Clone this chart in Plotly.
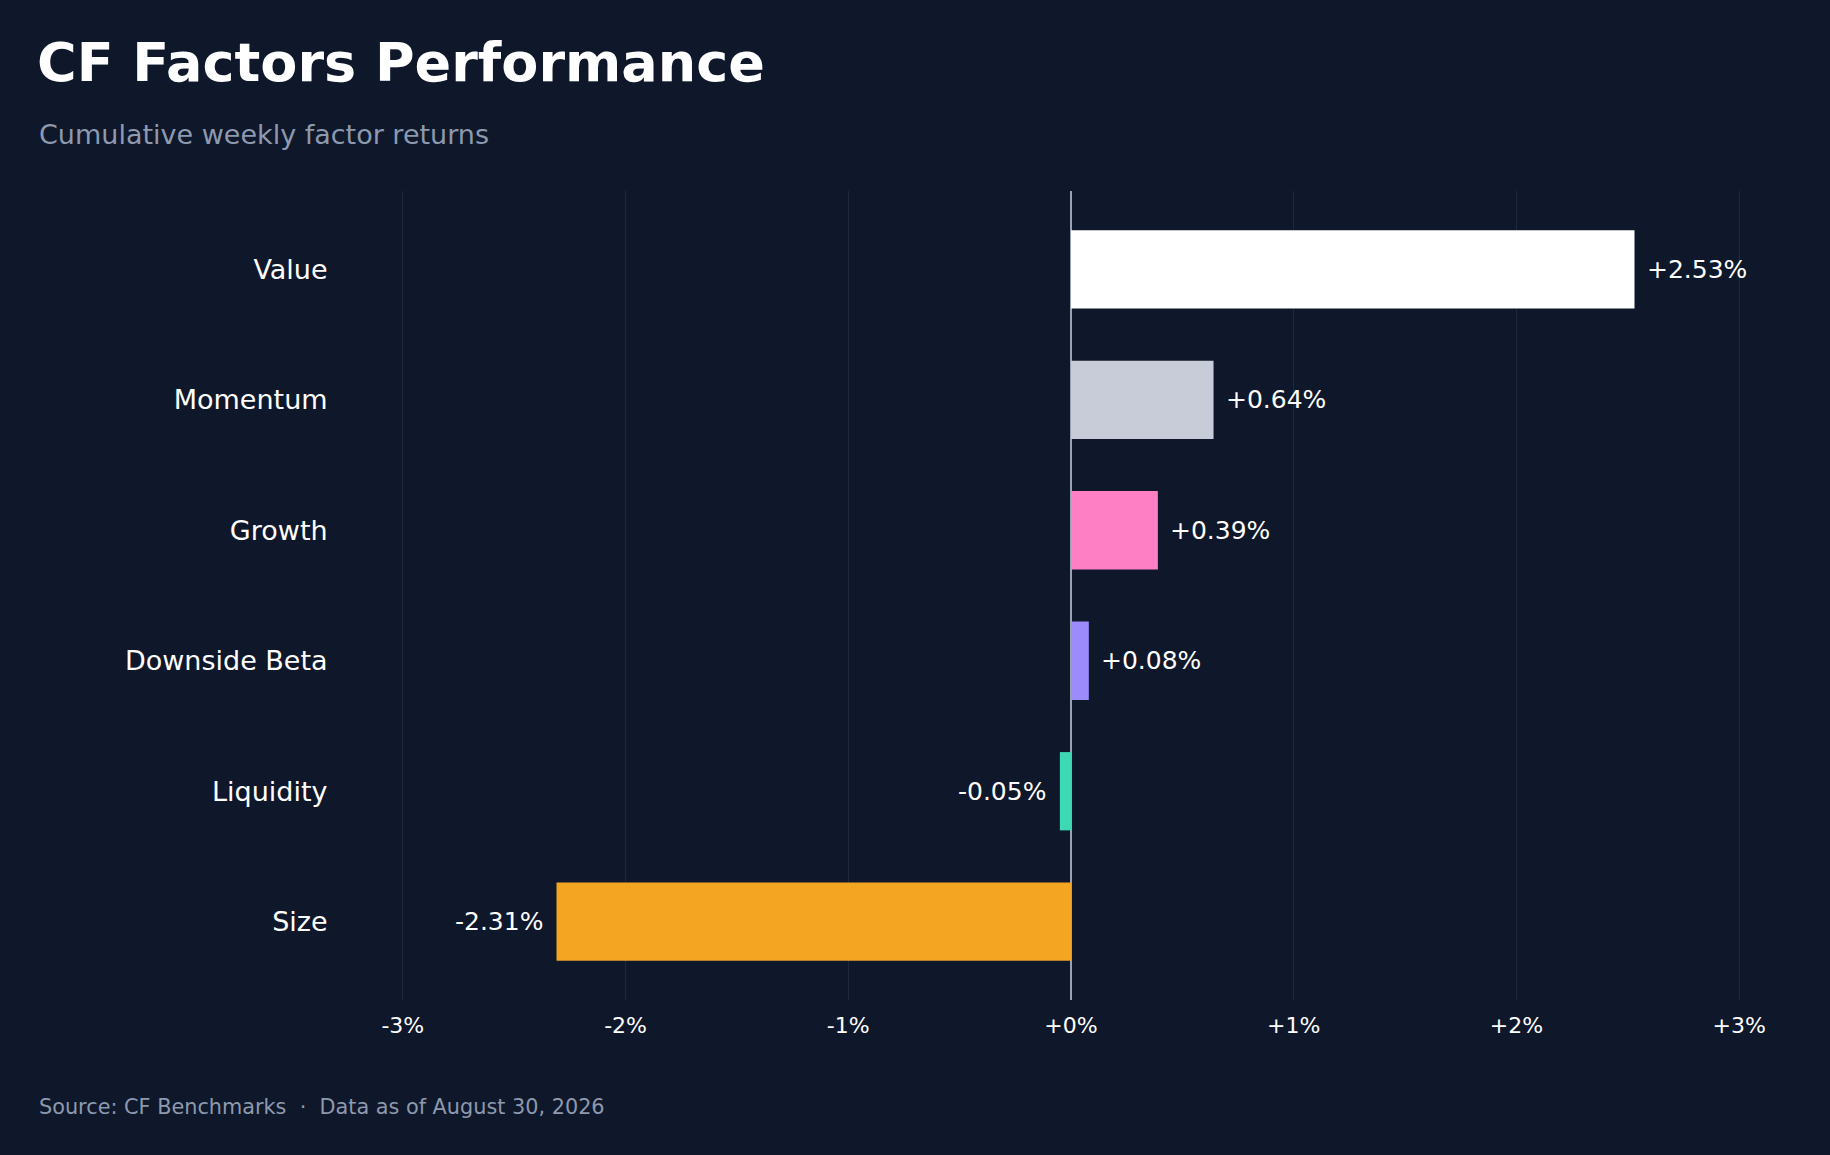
import plotly.graph_objects as go

# Data
factors = ["Value", "Momentum", "Growth", "Downside Beta", "Liquidity", "Size"]
returns = [2.53, 0.64, 0.39, 0.08, -0.05, -2.31]
bar_colors = ["#ffffff", "#c8ccd8", "#ff7fc5", "#9c8cfb", "#3dd9b4", "#f4a623"]
tick_vals = [-3, -2, -1, 0, 1, 2, 3]
tick_text = ["-3%", "-2%", "-1%", "+0%", "+1%", "+2%", "+3%"]

title_text = "CF Factors Performance"
subtitle_text = "Cumulative weekly factor returns"
footer_text = "Source: CF Benchmarks  \u00b7  Data as of August 30, 2026"

BG = "#0f172a"
W, H = 1830, 1155
M_L, M_R, M_T, M_B = 336, 24, 191, 155
plot_w = W - M_L - M_R
plot_h = H - M_T - M_B
FONT = "DejaVu Sans"


def px_to_paper_x(px):
    return (px - M_L) / plot_w


def px_to_paper_y(py):
    return (H - M_B - py) / plot_h


fig = go.Figure()

fig.add_trace(go.Bar(
    x=returns,
    y=factors,
    orientation="h",
    marker=dict(color=bar_colors, line=dict(width=0)),
    width=0.6,
    hoverinfo="skip",
))

# value labels next to each bar
for f, v in zip(factors, returns):
    fig.add_annotation(
        x=v, y=f, xref="x", yref="y",
        text=f"{v:+.2f}%",
        showarrow=False,
        xanchor="left" if v >= 0 else "right",
        xshift=10 if v >= 0 else -12,
        font=dict(family=FONT, size=25, color="#ffffff"),
    )

# subtitle and footer
fig.add_annotation(
    x=px_to_paper_x(37), y=px_to_paper_y(135), xref="paper", yref="paper",
    text=subtitle_text, showarrow=False, xanchor="left", yanchor="middle",
    font=dict(family=FONT, size=27, color="#8d99ae"),
)
fig.add_annotation(
    x=px_to_paper_x(37), y=px_to_paper_y(1107), xref="paper", yref="paper",
    text=footer_text, showarrow=False, xanchor="left", yanchor="middle",
    font=dict(family=FONT, size=20.8, color="#8d99ae"),
)

fig.update_layout(
    width=W, height=H,
    paper_bgcolor=BG,
    plot_bgcolor=BG,
    margin=dict(l=M_L, r=M_R, t=M_T, b=M_B),
    showlegend=False,
    title=dict(
        text=f"<b>{title_text}</b>",
        x=37 / W, xanchor="left",
        y=1 - 62 / H, yanchor="middle",
        font=dict(family=FONT, size=54, color="#ffffff"),
    ),
    xaxis=dict(
        range=[-3.3, 3.3],
        tickvals=tick_vals,
        ticktext=tick_text,
        showgrid=True,
        gridcolor="#1e293b",
        gridwidth=1,
        zeroline=True,
        zerolinecolor="#9aa3b5",
        zerolinewidth=1.5,
        showline=False,
        ticks="outside",
        ticklen=6,
        tickcolor=BG,
        tickfont=dict(family=FONT, size=22, color="#ffffff"),
        fixedrange=True,
    ),
    yaxis=dict(
        range=[5.6, -0.6],
        categoryorder="array",
        categoryarray=factors,
        showgrid=False,
        zeroline=False,
        showline=False,
        ticks="outside",
        ticklen=2,
        tickcolor=BG,
        tickfont=dict(family=FONT, size=27, color="#ffffff"),
        fixedrange=True,
    ),
)

fig.write_html(
    "out.html",
    config={"displayModeBar": False},
    post_script=f"document.body.style.margin='0';document.body.style.background='{BG}';",
)
